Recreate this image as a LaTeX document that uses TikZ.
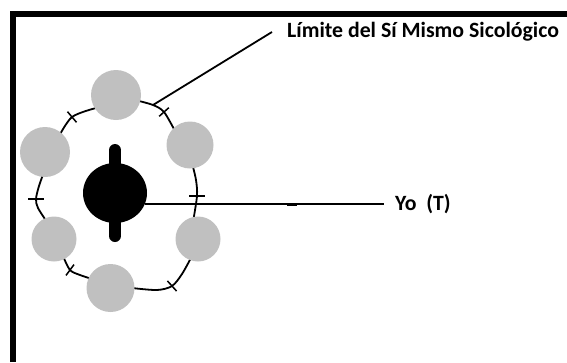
\documentclass[tikz,border=0pt]{standalone}
\usepackage{fontspec}
\setmainfont{Carlito}
\usetikzlibrary{shapes.geometric}
\definecolor{grisclaro}{RGB}{192,192,192}

\begin{document}
\begin{tikzpicture}[x=1pt,y=-1pt,
  borde/.style={line width=1.8pt},
  marca/.style={line width=1.5pt},
  circulo/.style={circle,fill=grisclaro,inner sep=0pt,minimum size=#1},
  etiqueta/.style={anchor=west,inner ysep=0pt,font=\bfseries\fontsize{21.8}{25}\selectfont}]
\useasboundingbox (0,0) rectangle (567,362);
\draw[line width=6pt] (12.5,362) -- (12.5,14.3) -- (567,14.3);
\draw[borde] plot[smooth] coordinates {(135,100) (153,105) (164,112) (175,131)};
\draw[borde] plot[smooth] coordinates {(192,163) (196,180) (197,196) (193,222)};
\draw[borde] plot[smooth] coordinates {(192,256) (182,274) (172,286) (157,290) (132,288)};
\draw[borde] plot[smooth] coordinates {(92,279) (80,275) (70,270) (63,256)};
\draw[borde] plot[smooth] coordinates {(47,222) (38,208) (36,199) (39,186) (44,172)};
\draw[borde] plot[smooth] coordinates {(58,138) (72,117) (96,108)};
\foreach \x/\y/\dx/\dy in %
{72/117/4.5/5.3,164/112/4.8/-4.3,197/196/8/0,172/286/4.6/5.1,70/270/4/-5.4,36/199/8/0} {
   \draw[marca] (\x-\dx,\y-\dy) -- (\x+\dx,\y+\dy);
}
\foreach \n/\x/\y/\r in %
{a/116/95/25,b/190/145/23.5,c/198/239/22.5,d/110.5/288/24,e/54/239/22.5,f/45/152/25} {
   \node[circulo=2*\r] (c\n) at (\x,\y) {};
}
\node[ellipse,fill=black,inner sep=0pt,minimum width=64,minimum height=60] (yo) at (115,193) {};
\draw[line width=12pt,line cap=round] (yo.center) ++(0,-43) -- ++(0,86);
\coordinate (lim) at (153,105);
\node[etiqueta,inner xsep=15pt] (limT) at (272,32) {Límite del Sí Mismo Sicológico};
\node[etiqueta,inner xsep=11pt] (yoT) at (384,204) {Yo\hspace{0.45em}(T)};
\draw[line width=1.8pt] (lim) -- (limT.west);
\draw[line width=1.8pt] (yo.-20) -- (yo.-20 -| yoT.west);
\draw[line width=3pt] (287,204) -- (297,204);
\end{tikzpicture}
\end{document}
